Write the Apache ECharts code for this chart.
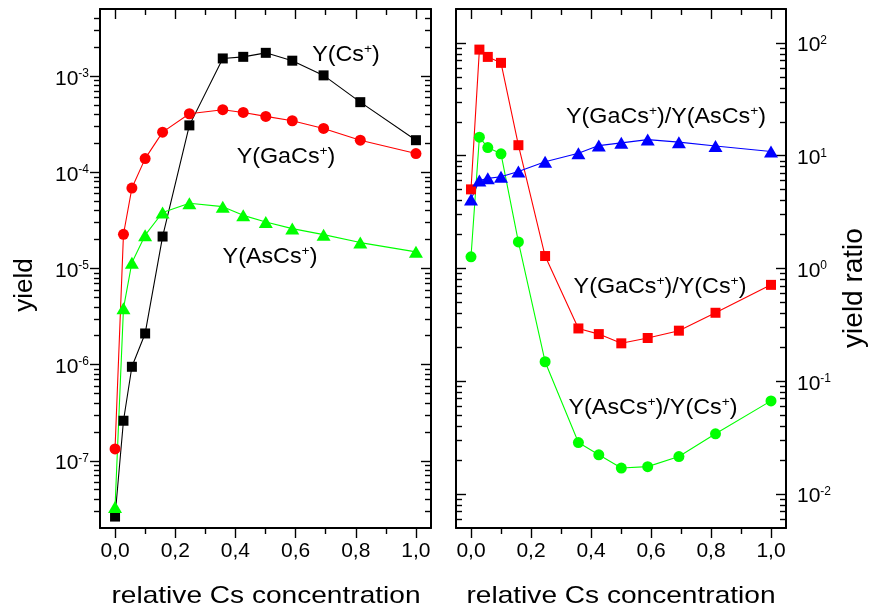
<!DOCTYPE html>
<html><head><meta charset="utf-8">
<script src="https://cdn.jsdelivr.net/npm/echarts@6/dist/echarts.min.js"></script>
<style>html,body{margin:0;padding:0;background:#fff}#c{width:872px;height:611px}</style>
</head><body><div id="c"></div>
<script>
// ---- data ----
const concentration = [0, 0.028, 0.056, 0.1, 0.158, 0.247, 0.358, 0.426, 0.501, 0.589, 0.693, 0.815, 1.0];
const yieldCs   = [2.63e-8, 2.61e-7, 9.5e-7, 2.11e-6, 2.15e-5, 3.08e-4, 1.53e-3, 1.59e-3, 1.75e-3, 1.45e-3, 1.02e-3, 5.37e-4, 2.16e-4];
const yieldGaCs = [1.33e-7, 2.27e-5, 6.87e-5, 1.39e-4, 2.62e-4, 4.07e-4, 4.48e-4, 4.2e-4, 3.82e-4, 3.44e-4, 2.86e-4, 2.16e-4, 1.57e-4];
const yieldAsCs = [3.3e-8, 3.85e-6, 1.15e-5, 2.22e-5, 3.82e-5, 4.77e-5, 4.4e-5, 3.57e-5, 3.05e-5, 2.6e-5, 2.25e-5, 1.86e-5, 1.49e-5];
const ratioGaCsCs   = [5.03, 87.3, 75.2, 66.6, 12.4, 1.29, 0.294, 0.262, 0.217, 0.242, 0.281, 0.405, 0.716];
const ratioAsCsCs   = [1.27, 14.6, 11.8, 10.4, 1.72, 0.149, 0.0286, 0.0223, 0.017, 0.0175, 0.0215, 0.0342, 0.067];
const ratioGaCsAsCs = [4.1, 6.04, 6.3, 6.52, 7.26, 8.85, 10.5, 12.3, 13.0, 13.9, 13.2, 12.2, 10.9];
const xTicks = [0, 0.2, 0.4, 0.6, 0.8, 1.0];
const xMinorTicks = [0.1, 0.3, 0.5, 0.7, 0.9];
const yieldTicks = [1e-7, 1e-6, 1e-5, 1e-4, 1e-3];
const ratioTicks = [1e-2, 1e-1, 1e0, 1e1, 1e2];
const xTitle = 'relative Cs concentration';
const yTitleLeft = 'yield';
const yTitleRight = 'yield ratio';

// ---- helpers ----
const FONT = '"Liberation Sans", Arial, sans-serif';
function minorLog(min, max) {
  const out = [];
  for (let e = -10; e <= 4; e++) for (let k = 2; k <= 9; k++) {
    const v = +(k * Math.pow(10, e)).toPrecision(3);
    if (v > min && v < max) out.push(v);
  }
  return out;
}
const X_MIN = -0.05, X_MAX = 1.05;
const Y1_MIN = 2e-8, Y1_MAX = 5e-3;
const Y2_MIN = 5e-3, Y2_MAX = 200;
const GREEN = '#00ff00';
const lineC = {color: '#000', width: 2};
const tickC = {color: '#000', width: 1.4};

function xAxesFor(g) {
  const base = {type: 'value', gridIndex: g, min: X_MIN, max: X_MAX, splitLine: {show: false}};
  return [
    Object.assign({}, base, {position: 'bottom', axisLine: {show: true, onZero: false, lineStyle: lineC},
      axisTick: {show: true, inside: false, length: 10, customValues: xTicks, lineStyle: tickC},
      axisLabel: {show: true, customValues: xTicks, margin: 13, fontSize: 21, color: '#000', fontFamily: FONT,
        formatter: v => v.toFixed(1).replace('.', ',')}}),
    Object.assign({}, base, {position: 'bottom', axisLine: {show: false, onZero: false},
      axisTick: {show: true, inside: false, length: 6, customValues: xMinorTicks, lineStyle: tickC}, axisLabel: {show: false}}),
    Object.assign({}, base, {position: 'top', axisLine: {show: true, onZero: false, lineStyle: lineC},
      axisTick: {show: true, inside: true, length: 10, customValues: xTicks, lineStyle: tickC}, axisLabel: {show: false}}),
    Object.assign({}, base, {position: 'top', axisLine: {show: false, onZero: false},
      axisTick: {show: true, inside: true, length: 6, customValues: xMinorTicks, lineStyle: tickC}, axisLabel: {show: false}})
  ];
}
const supRich = {
  a: {fontSize: 21, lineHeight: 22, fontFamily: FONT, color: '#000'},
  b: {fontSize: 12, lineHeight: 8, verticalAlign: 'top', fontFamily: FONT, color: '#000'}
};
function yAxesFor(g, min, max, ticks, labelSide, leftInside) {
  const minors = minorLog(min, max);
  const base = {type: 'log', logBase: 10, gridIndex: g, min: min, max: max, splitLine: {show: false}};
  function pair(pos, inside, labels) {
    return [
      Object.assign({}, base, {position: pos, axisLine: {show: true, onZero: false, lineStyle: lineC},
        axisTick: {show: true, inside: inside, length: 10, customValues: ticks, lineStyle: tickC},
        axisLabel: labels ? {show: true, customValues: ticks, margin: 11, padding: [5, 0, 0, 0],
          formatter: v => '{a|10}{b|' + Math.round(Math.log10(v)) + '}', rich: supRich} : {show: false}}),
      Object.assign({}, base, {position: pos, axisLine: {show: false, onZero: false},
        axisTick: {show: true, inside: inside, length: 6, customValues: minors, lineStyle: tickC}, axisLabel: {show: false}})
    ];
  }
  return pair('left', leftInside, labelSide === 'left').concat(pair('right', true, labelSide === 'right'));
}
function pts(ys) { return concentration.map((x, i) => [x, ys[i]]); }
function line(name, ys, xi, yi, color, symbol, size) {
  return {type: 'line', name: name, xAxisIndex: xi, yAxisIndex: yi, data: pts(ys), symbol: symbol, symbolSize: size,
    showSymbol: true, lineStyle: {color: color, width: 1.1}, itemStyle: {color: color, borderWidth: 0},
    emphasis: {disabled: true}, animation: false, z: 3};
}
function ann(text, x, y) {
  return {type: 'text', x: x, y: y, scaleX: 1.06, z: 100,
    style: {text: text, align: 'center', verticalAlign: 'middle', textAlign: 'center', textVerticalAlign: 'middle',
      fill: '#000', font: '22px ' + FONT,
      rich: {m: {fontSize: 22, lineHeight: 24, fontFamily: FONT, fill: '#000', color: '#000'},
             s: {fontSize: 13, lineHeight: 10, verticalAlign: 'top', fontFamily: FONT, fill: '#000', color: '#000'}}}};
}
function title(text, x, y, size, rot, sx) {
  return {type: 'text', x: x, y: y, rotation: rot, scaleX: sx, z: 100,
    style: {text: text, align: 'center', verticalAlign: 'middle', textAlign: 'center', textVerticalAlign: 'middle',
      fill: '#000', font: size + 'px ' + FONT}};
}

const chart = echarts.init(document.getElementById('c'), null, {renderer: 'canvas'});
chart.setOption({
  backgroundColor: '#fff',
  animation: false,
  grid: [
    {left: 100, top: 9, width: 331, height: 519, containLabel: false},
    {left: 456, top: 9, width: 330, height: 519, containLabel: false}
  ],
  xAxis: xAxesFor(0).concat(xAxesFor(1)),
  yAxis: yAxesFor(0, Y1_MIN, Y1_MAX, yieldTicks, 'left', false).concat(yAxesFor(1, Y2_MIN, Y2_MAX, ratioTicks, 'right', true)),
  series: [
    line('Y(Cs+)', yieldCs, 0, 0, '#000000', 'rect', 10),
    line('Y(GaCs+)', yieldGaCs, 0, 0, '#ff0000', 'circle', 11),
    line('Y(AsCs+)', yieldAsCs, 0, 0, GREEN, 'triangle', [14, 12]),
    line('Y(GaCs+)/Y(Cs+)', ratioGaCsCs, 4, 6, '#ff0000', 'rect', 10),
    line('Y(AsCs+)/Y(Cs+)', ratioAsCsCs, 4, 6, GREEN, 'circle', 11),
    line('Y(GaCs+)/Y(AsCs+)', ratioGaCsAsCs, 4, 6, '#0000ff', 'triangle', [14, 12])
  ],
  graphic: [
    ann('{m|Y(Cs}{s|+}{m|)}', 346, 55),
    ann('{m|Y(GaCs}{s|+}{m|)}', 286, 157),
    ann('{m|Y(AsCs}{s|+}{m|)}', 270, 257),
    ann('{m|Y(GaCs}{s|+}{m|)/Y(AsCs}{s|+}{m|)}', 666, 117),
    ann('{m|Y(GaCs}{s|+}{m|)/Y(Cs}{s|+}{m|)}', 660, 287),
    ann('{m|Y(AsCs}{s|+}{m|)/Y(Cs}{s|+}{m|)}', 653, 408),
    title(xTitle, 266, 596, 24, 0, 1.17),
    title(xTitle, 621, 596, 24, 0, 1.17),
    title(yTitleLeft, 25, 285, 26, Math.PI / 2, 1),
    title(yTitleRight, 854, 288, 28, Math.PI / 2, 1)
  ]
});
</script></body></html>
